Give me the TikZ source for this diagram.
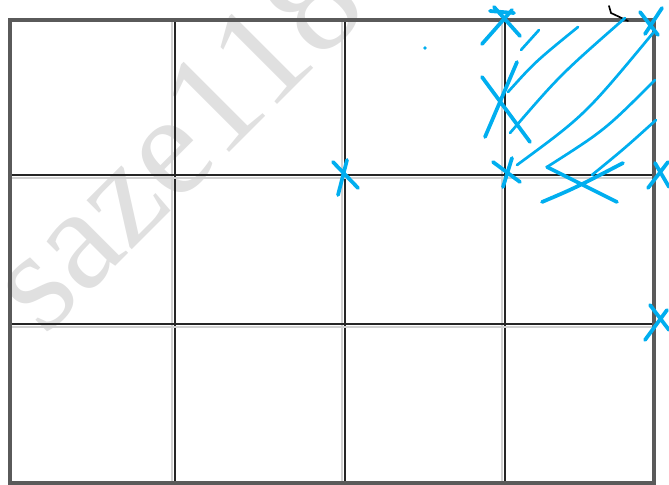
\documentclass[tikz,border=0pt]{standalone}
\usepackage{fontspec}
\newfontfamily\wmfont{Liberation Serif}
\definecolor{penBlue}{HTML}{00AEEF}
\definecolor{gridGray}{HTML}{5A5A5A}
\usetikzlibrary{positioning}

\begin{document}
\begin{tikzpicture}[x=0.03cm, y=-0.03cm,
  outerline/.style={draw=gridGray, line width=2.8pt},
  innerline/.style={draw=black!85, line width=1.7pt},
  shadowline/.style={draw=black!18, line width=1.4pt},
  pen/.style={draw=penBlue, line width=3.2pt, line cap=round, line join=round},
  thinpen/.style={draw=penBlue, line width=2.3pt, line cap=round}]
  \useasboundingbox (0,0) rectangle (669,485);
  % watermark
  \node[anchor=base west, rotate=45, inner sep=0pt, text=black!12,
    font=\wmfont\fontsize{124}{124}\selectfont] (wm) at (44,338) {saze118};
  % grid
  \foreach \x in {175,345,505} {
    \draw[shadowline] (\x-3,20) -- (\x-3,483);
    \draw[innerline] (\x,20) -- (\x,483);
  }
  \foreach \y in {175,324} {
    \draw[shadowline] (10,\y+3) -- (654,\y+3);
    \draw[innerline] (10,\y) -- (654,\y);
  }
  \draw[outerline] (10,20) rectangle (654,483);
  % small black hook
  \draw[black, line width=1.4pt, line cap=round] (609,6) -- (611,13) -- (628,21);
  % hatching in the top right cell
  \draw[thinpen] (521,50) -- (539,30);
  \draw[thinpen] (508,92) .. controls (535,62) .. (578,27);
  \draw[thinpen] (510,133) .. controls (560,75) .. (625,18);
  \draw[thinpen] (517,165) .. controls (585,115) .. (653,33);
  \draw[thinpen] (547,167) .. controls (605,130) .. (655,80);
  \draw[thinpen] (592,175) .. controls (625,148) .. (656,120);
  % crosses
  \draw[pen] (482,44) -- (512,10) (494,7) -- (520,36) (490,11) -- (514,13);
  \draw[pen] (645,34) -- (662,8) (640,12) -- (658,35);
  \draw[pen] (482,77) -- (530,142) (485,137) -- (517,62);
  \draw[pen] (493,162) -- (520,182) (503,187) -- (512,158);
  \draw[pen] (333,162) -- (358,188) (347,160) -- (338,195);
  \draw[pen] (542,202) .. controls (575,188) .. (623,163) (547,167) -- (617,202);
  \draw[pen] (648,188) -- (668,162) (655,163) -- (669,187);
  \draw[pen] (645,340) -- (667,310) (650,305) -- (669,330);
  \fill[penBlue] (425,48) circle (1.8);
\end{tikzpicture}
\end{document}
